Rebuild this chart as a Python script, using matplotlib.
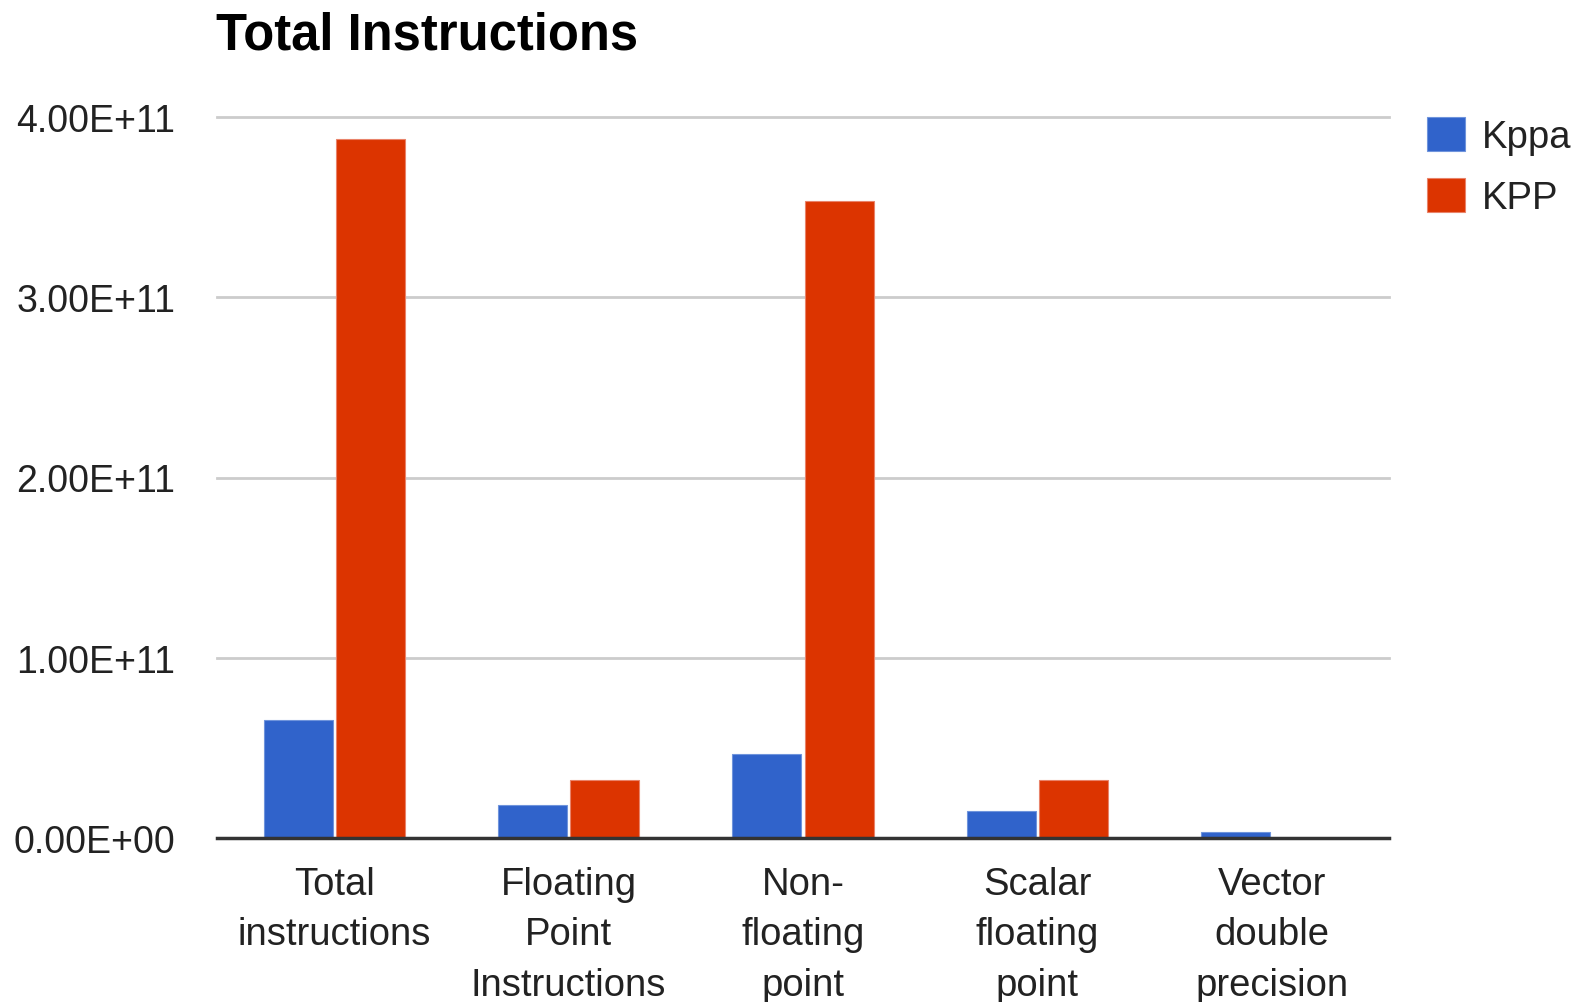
import numpy as np
import matplotlib
matplotlib.use("Agg")
import matplotlib.pyplot as plt

plt.rcParams['font.family'] = ['Liberation Sans', 'DejaVu Sans']

categories = ["Total\ninstructions", "Floating\nPoint\nInstructions",
              "Non-\nfloating\npoint", "Scalar\nfloating\npoint",
              "Vector\ndouble\nprecision"]
kppa = [6.55e10, 1.81e10, 4.68e10, 1.50e10, 3.2e9]
kpp = [3.88e11, 3.22e10, 3.535e11, 3.22e10, 0.0]
yticks = [0, 1e11, 2e11, 3e11, 4e11]
ytick_labels = ["0.00E+00", "1.00E+11", "2.00E+11", "3.00E+11", "4.00E+11"]

W, H = 1582, 1003
fig = plt.figure(figsize=(W / 100, H / 100), dpi=100)
ax = fig.add_axes([217 / W, 1 - 839 / H, 1172 / W, (839 - 118) / H])

x = np.arange(len(categories))
bw = 0.295
off = (bw + 0.013) / 2
ax.bar(x - off, kppa, bw, color='#3063CB', edgecolor='#6f94dc', linewidth=0.8,
       label='Kppa', zorder=3)
ax.bar(x + off, kpp, bw, color='#DC3400', edgecolor='#e9836a', linewidth=0.8,
       label='KPP', zorder=3)

ax.set_xlim(-0.5, len(categories) - 0.5)
ax.set_ylim(0, 4e11)
ax.set_yticks(yticks)
ax.set_yticklabels(ytick_labels, fontsize=27)
ax.set_xticks(x)
ax.set_xticklabels(categories, linespacing=1.52, fontsize=27.5)
ax.tick_params(axis='both', length=0, colors='#222222')
ax.tick_params(axis='y', pad=30)
ax.tick_params(axis='x', pad=20)

for yv in yticks[1:]:
    ax.axhline(yv, color='#cccccc', linewidth=2, zorder=1, clip_on=False)
for s in ['top', 'right', 'left']:
    ax.spines[s].set_visible(False)
ax.spines['bottom'].set_color('#333333')
ax.spines['bottom'].set_linewidth(2.5)
ax.spines['bottom'].set_zorder(4)

fig.text(216 / W, 1 - 50 / H, "Total Instructions", fontsize=36.5,
         fontweight='bold', ha='left', va='baseline', color='black')

leg = ax.legend(loc='upper left', bbox_to_anchor=(1.032, 1.0), frameon=False,
                fontsize=27.5, handlelength=1.0, handleheight=1.0,
                handletextpad=0.45, labelspacing=0.6, borderaxespad=0,
                borderpad=0)
for t in leg.get_texts():
    t.set_color('#222222')

fig.savefig("out.png", dpi=100, facecolor='white')
